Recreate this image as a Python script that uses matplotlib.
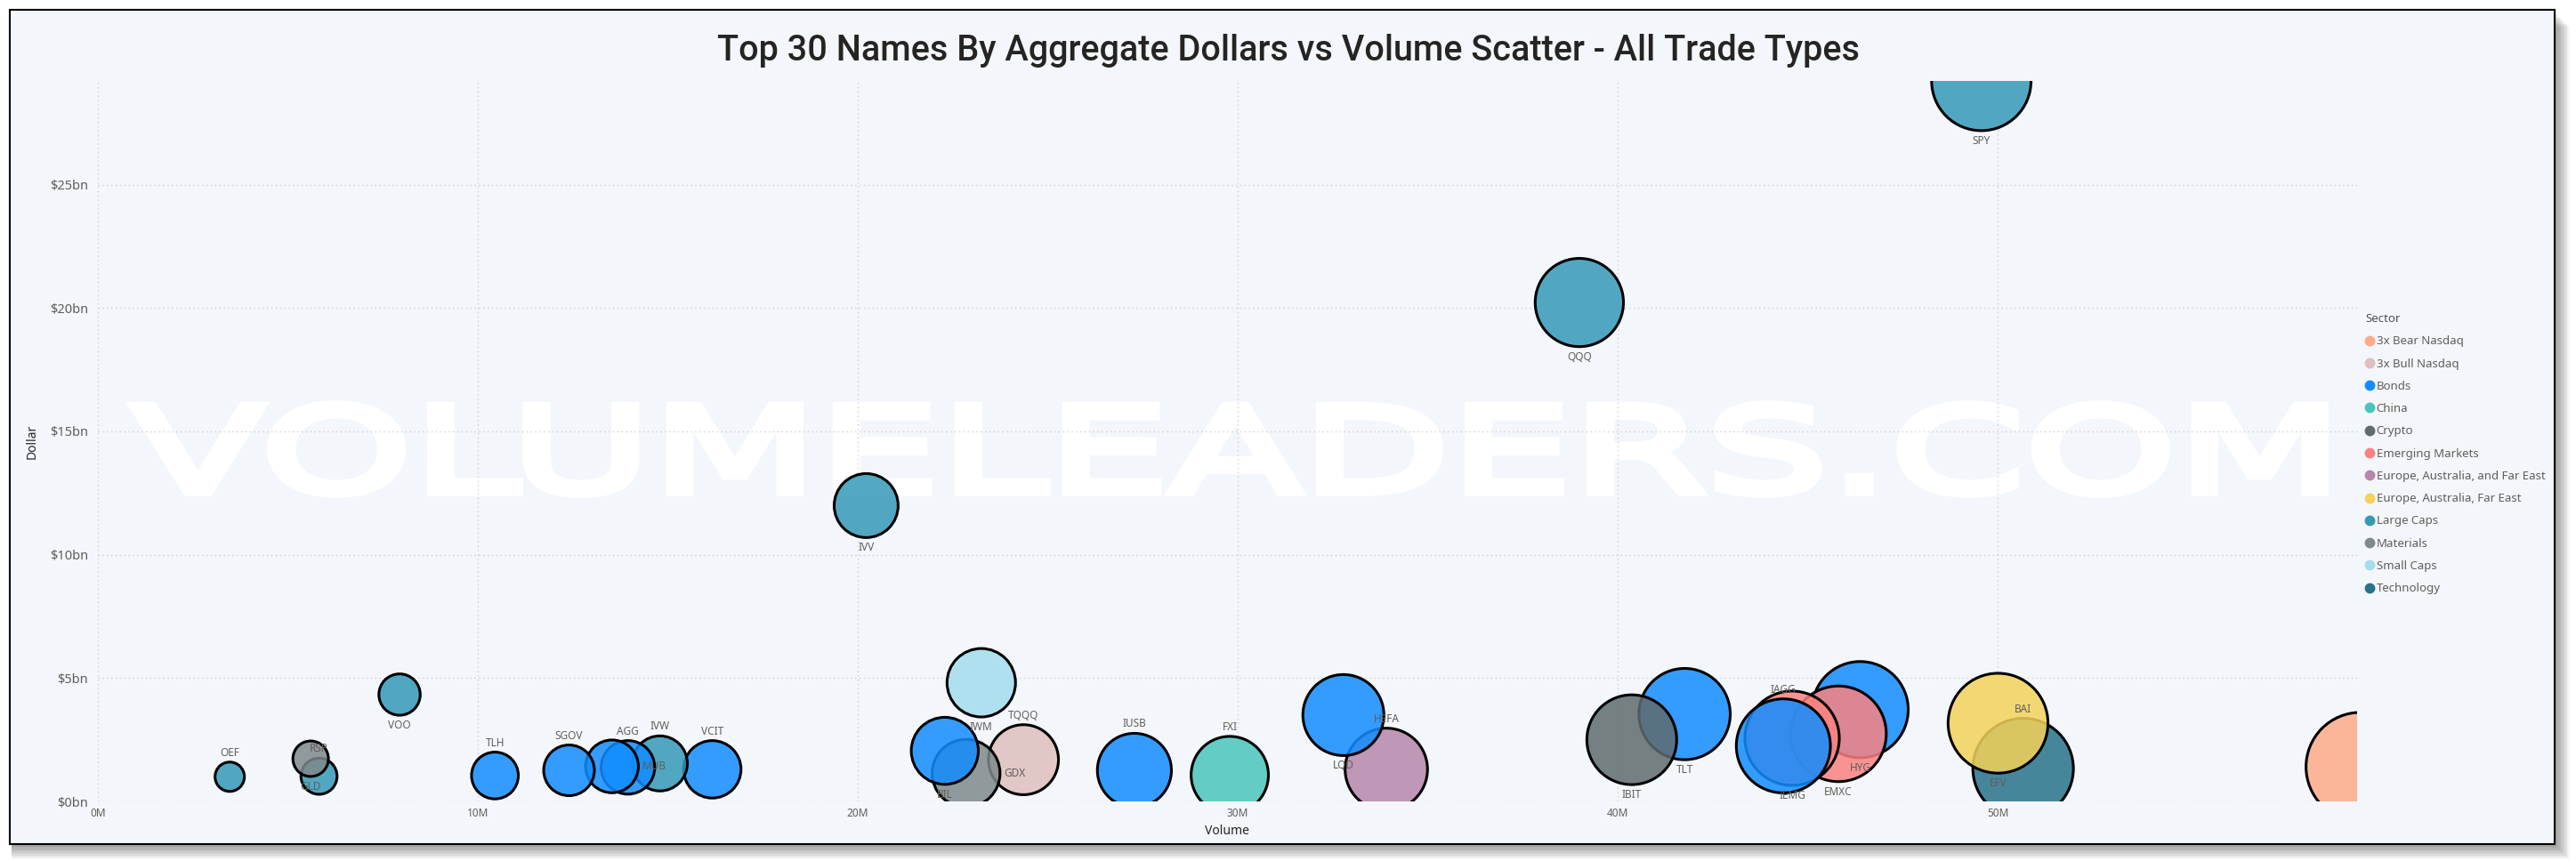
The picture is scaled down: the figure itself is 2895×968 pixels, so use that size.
"""Top 30 names: aggregate dollars vs volume bubble scatter."""

import numpy as np
import matplotlib
matplotlib.use("Agg")
import matplotlib.pyplot as plt
from matplotlib.lines import Line2D
from matplotlib.patches import Rectangle, PathPatch
from matplotlib.textpath import TextPath
from matplotlib.font_manager import FontProperties
from matplotlib.transforms import Affine2D

plt.rcParams["font.family"] = ["Noto Sans", "DejaVu Sans"]

tickers = ["OEF", "RSP", "GLD", "VOO", "TLH", "SGOV", "MUB", "AGG", "IVW", "VCIT",
           "IVV", "BIL", "GDX", "IWM", "TQQQ", "IUSB", "FXI", "LQD", "HEFA", "QQQ",
           "IBIT", "TLT", "IAGG", "IEMG", "EMXC", "HYG", "SPY", "EFV", "BAI", "SQQQ"]
sectors = ["Large Caps", "Large Caps", "Materials", "Large Caps", "Bonds", "Bonds", "Bonds",
           "Bonds", "Large Caps", "Bonds", "Large Caps", "Bonds", "Materials", "Small Caps",
           "3x Bull Nasdaq", "Bonds", "China", "Bonds", "Europe, Australia, and Far East",
           "Large Caps", "Crypto", "Bonds", "Bonds", "Emerging Markets", "Emerging Markets",
           "Bonds", "Large Caps", "Europe, Australia, Far East", "Technology", "3x Bear Nasdaq"]
volume_m = [3.47, 5.82, 5.60, 7.94, 10.45, 12.40, 13.53, 13.95, 14.79, 16.17,
            20.22, 22.29, 22.85, 23.25, 24.36, 27.28, 29.79, 32.78, 33.91, 38.99,
            40.37, 41.76, 44.36, 44.59, 45.81, 46.38, 49.57, 50.01, 50.67, 59.55]
dollars_bn = [1.00, 1.02, 1.73, 4.33, 1.05, 1.26, 1.42, 1.38, 1.54, 1.30,
              11.99, 2.05, 1.14, 4.81, 1.69, 1.26, 1.07, 3.50, 1.30, 20.22,
              2.50, 3.54, 2.25, 2.56, 2.74, 3.72, 29.20, 3.17, 1.33, 1.40]

legend_sectors = ["3x Bear Nasdaq", "3x Bull Nasdaq", "Bonds", "China", "Crypto",
                  "Emerging Markets", "Europe, Australia, and Far East",
                  "Europe, Australia, Far East", "Large Caps", "Materials",
                  "Small Caps", "Technology"]
sector_colors = ["#FDAB89", "#DFBFBF", "#118DFF", "#4AC5BB", "#5F6B6D", "#FB8281",
                 "#B687AC", "#F4D25A", "#3599B8", "#7F898A", "#A4DDEE", "#28738A"]
color_of = dict(zip(legend_sectors, sector_colors))

below = {"VOO", "IVV", "IWM", "BIL", "QQQ", "SPY", "LQD", "IBIT", "TLT", "HYG",
         "EMXC", "IEMG", "EFV", "GLD"}
right = {"MUB", "GDX"}
left = {"SQQQ"}

W, H = 2895, 968
fig = plt.figure(figsize=(W / 100, H / 100), dpi=100)
fig.patch.set_facecolor("white")

# card with soft shadow
for k in range(12, 0, -1):
    fig.patches.append(Rectangle((13 / W, (H - 949 - k * 1.4) / H), (2858 + k * 1.4) / W, 936 / H,
                                 transform=fig.transFigure, facecolor="black",
                                 alpha=0.035, edgecolor="none", zorder=-3))
fig.patches.append(Rectangle((11 / W, (H - 949) / H), 2860 / W, 938 / H,
                             transform=fig.transFigure, facecolor="#F3F6FA",
                             edgecolor="black", linewidth=1.5, zorder=-2))

ax = fig.add_axes([110 / W, (H - 901) / H, (2649 - 110) / W, (901 - 91) / H])
ax.set_facecolor("none")
ax.set_xlim(0, 59.46)
ax.set_ylim(0, 29.2)
ax.set_axisbelow(True)
ax.grid(True, color="#CFCFCF", linestyle=(0, (1, 2.5)), linewidth=1.0)
for s in ax.spines.values():
    s.set_visible(False)
ax.set_xticks([0, 10, 20, 30, 40, 50])
ax.set_xticklabels([f"{v}M" for v in [0, 10, 20, 30, 40, 50]])
ax.set_yticks([0, 5, 10, 15, 20, 25])
ax.set_yticklabels([f"${v}bn" for v in [0, 5, 10, 15, 20, 25]])
ax.tick_params(axis="x", length=0, pad=5, labelsize=8.5, labelcolor="#605E5C")
ax.tick_params(axis="y", length=0, pad=8, labelsize=10.5, labelcolor="#605E5C")
ax.set_xlabel("Volume", fontsize=10, fontweight="bold", color="#252423", labelpad=4)
ax.set_ylabel("Dollar", fontsize=10, fontweight="bold", color="#252423", labelpad=9)

# watermark
tp = TextPath((0, 0), "VOLUMELEADERS.COM",
              prop=FontProperties(family="DejaVu Sans"), size=100)
bb = tp.get_extents()
x0, x1, ytop, ybot = 150, 2612, 455, 555
wm = Affine2D().translate(-bb.x0, -bb.y0).scale((x1 - x0) / bb.width / W,
                                                 (ybot - ytop) / bb.height / H)
wm = wm.translate(x0 / W, (H - ybot) / H) + fig.transFigure
ax.add_patch(PathPatch(tp, transform=wm, facecolor="white", edgecolor="white",
                       linewidth=7, joinstyle="miter", zorder=0.2, clip_on=False))

# bubbles: area grows with volume, biggest drawn first
vol = np.array(volume_m)
r_px = np.sqrt(100 + 64.4 * vol)
order = np.argsort(-vol)
for z, i in enumerate(order):
    rp = (r_px[i] - 1.5) * 0.72
    ax.scatter(volume_m[i], dollars_bn[i], s=(2 * rp) ** 2,
               color=color_of[sectors[i]], alpha=0.85, edgecolors="none", zorder=2 + z)
    ax.scatter(volume_m[i], dollars_bn[i], s=(2 * rp) ** 2, facecolors="none",
               edgecolors="black", linewidths=2.2, zorder=2 + z)

for i, t in enumerate(tickers):
    r = r_px[i]
    if t in below:
        off, ha = (0, -(r + 10)), "center"
    elif t in right:
        off, ha = (r + 3, 0), "left"
    elif t in left:
        off, ha = (-(r + 2), 0), "right"
    else:
        off, ha = (0, r + 9), "center"
    ax.annotate(t, (volume_m[i], dollars_bn[i]), xytext=off, textcoords="offset pixels",
                ha=ha, va="center", fontsize=8.5, color="#605E5C", zorder=100)

fig.text(0.5, 1 - 57 / H, "Top 30 Names By Aggregate Dollars vs Volume Scatter - All Trade Types",
         ha="center", va="center", fontsize=28.5, fontweight="medium", color="#252423",
         family=["Roboto", "DejaVu Sans"])

handles = [Line2D([], [], marker="o", linestyle="", markersize=7.5,
                  markerfacecolor=c, markeredgecolor=c) for c in sector_colors]
leg = fig.legend(handles, legend_sectors, loc="upper left",
                 bbox_to_anchor=(2658 / W, 1 - 352 / H), frameon=False,
                 title="Sector", alignment="left", fontsize=9.5,
                 title_fontproperties={"weight": "bold", "size": 9.5},
                 handlelength=0.7, handletextpad=0.25, labelspacing=0.93,
                 borderpad=0, borderaxespad=0)
for txt in leg.get_texts():
    txt.set_color("#605E5C")
leg.get_title().set_color("#505050")

fig.savefig("out.png", dpi=100)
